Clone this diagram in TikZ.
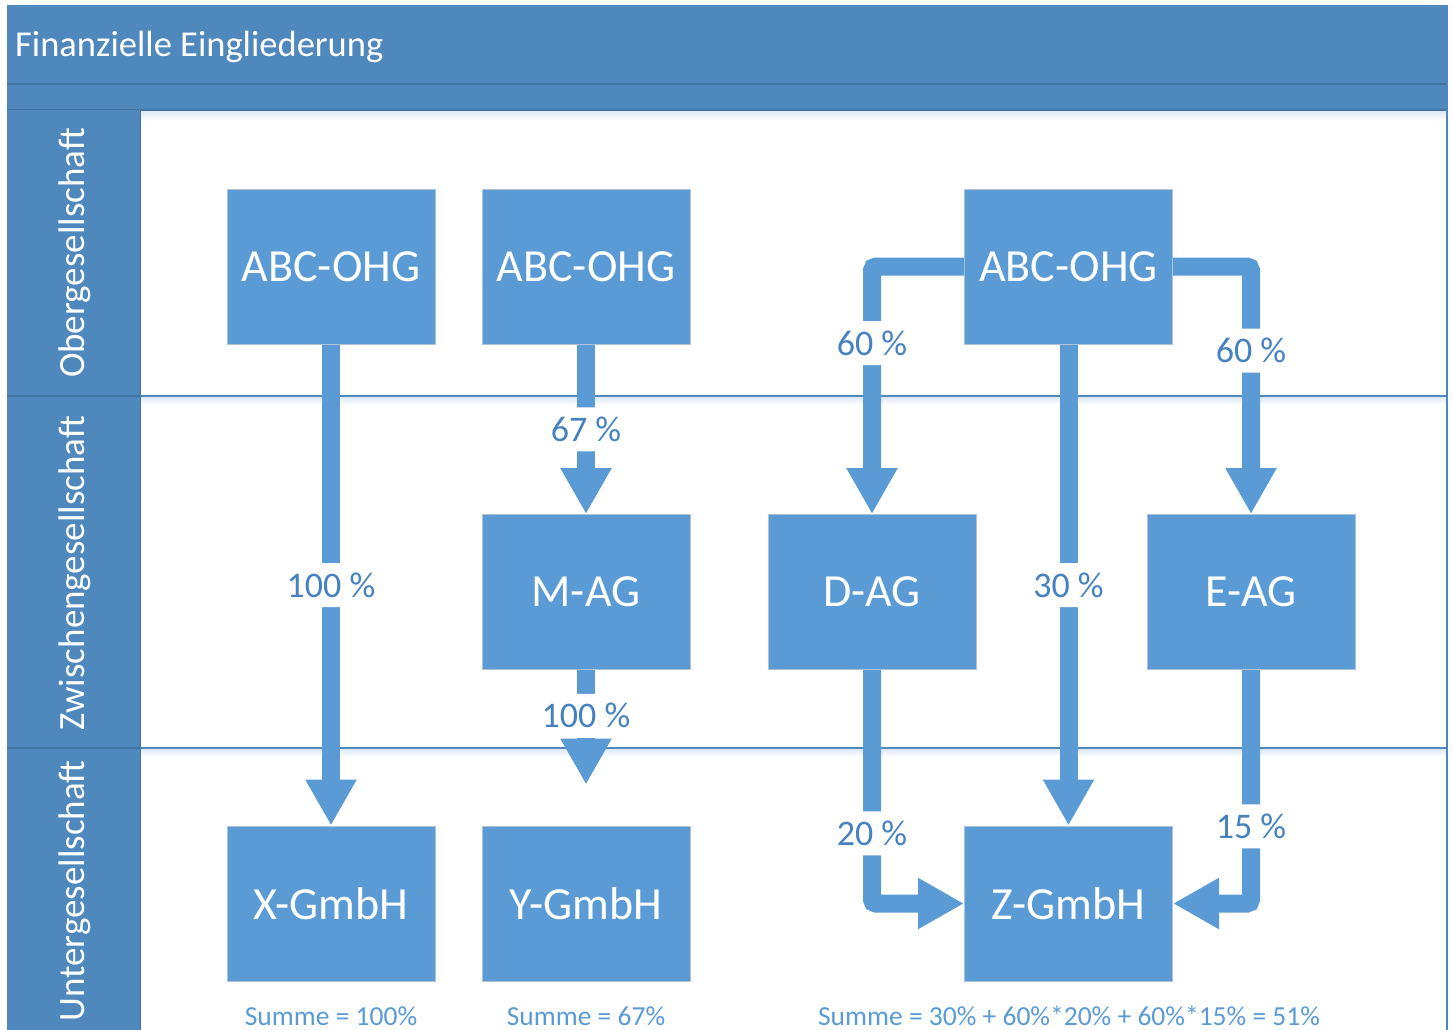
\documentclass[tikz,border=0pt]{standalone}
\usepackage{fontspec}
\setmainfont{Carlito}
\usetikzlibrary{arrows.meta,positioning}

\definecolor{headerblue}{RGB}{79,136,188}
\definecolor{ruleblue}{RGB}{66,114,160}
\definecolor{boxblue}{RGB}{91,155,213}
\definecolor{boxedge}{RGB}{175,195,215}
\definecolor{labelblue}{RGB}{70,130,192}
\definecolor{haze}{RGB}{222,233,246}

\tikzset{
  company/.style={draw=boxedge, line width=1pt, fill=boxblue, text=white,
    minimum width=208pt, minimum height=155pt, inner sep=0pt,
    font=\fontsize{46}{54}\selectfont},
  share/.style={line width=18pt, draw=boxblue, line cap=butt,
    rounded corners=4pt, -{Triangle[width=48pt,length=46pt]}},
  pct/.style={fill=white, text=labelblue, inner xsep=2pt, inner ysep=10pt,
    text height=24pt, text depth=0pt, font=\fontsize{36}{42}\selectfont},
  lanelabel/.style={rotate=90, text=white, inner sep=0pt,
    font=\fontsize{37}{44}\selectfont},
  total/.style={text=boxblue, inner sep=0pt, anchor=base,
    font=\fontsize{27.5}{33}\selectfont},
}

\begin{document}
\begin{tikzpicture}[x=1pt,y=-1pt]
  \clip (0,0) rectangle (1453,1029);
  \fill[white] (0,0) rectangle (1453,1029);

  % title band and sub band
  \fill[headerblue] (7,5) rectangle (1447,110);
  \draw[ruleblue, line width=1.2pt] (7,84) -- (1447,84);
  \draw[ruleblue, line width=1.2pt] (7,110) -- (1447,110);
  \node[anchor=base west, inner sep=0pt, text=white,
        font=\fontsize{36.5}{42}\selectfont] (title) at (15,56) {Finanzielle Eingliederung};

  % soft haze below the header and the lane rules
  \shade[top color=haze, bottom color=white] (140,111) rectangle (1446,121);
  \shade[top color=haze, bottom color=white] (140,397) rectangle (1446,405);
  \shade[top color=haze, bottom color=white] (140,749) rectangle (1446,757);

  % lane column
  \fill[headerblue] (7,110) rectangle (140,1040);
  \draw[ruleblue, line width=1.2pt] (7,396) -- (140,396);
  \draw[ruleblue, line width=1.2pt] (7,748) -- (140,748);
  \draw[ruleblue, line width=0.8pt] (140,110) -- (140,1040);

  % lane rules and right frame
  \draw[headerblue, line width=1.5pt] (140,396) -- (1447,396);
  \draw[headerblue, line width=1.5pt] (140,748) -- (1447,748);
  \draw[headerblue, line width=2pt] (1447,5) -- (1447,1040);

  \node[lanelabel] (lane1) at (75,253) {Obergesellschaft};
  \node[lanelabel] (lane2) at (75,573) {Zwischengesellschaft};
  \node[lanelabel] (lane3) at (75,891) {Untergesellschaft};

  % companies
  \node[company] (abc1) at (331,266.5)    {ABC-OHG};
  \node[company] (abc2) at (586,266.5)    {ABC-OHG};
  \node[company] (abc3) at (1068.5,266.5) {ABC-OHG};
  \node[company] (mag)  at (586,592)      {M-AG};
  \node[company] (dag)  at (872,592)      {D-AG};
  \node[company] (eag)  at (1251,592)     {E-AG};
  \node[company] (xg)   at (331,903.5)    {X-GmbH};
  \node[company] (yg)   at (586,903.5)    {Y-GmbH};
  \node[company] (zg)   at (1068.5,903.5) {Z-GmbH};

  % shareholdings
  \draw[share] (abc1.south) -- node[pct] (p1) {100 \%} (xg.north);
  \draw[share] (abc2.south) -- node[pct] (p2) {67 \%} (mag.north);
  \draw[share, shorten >=41pt] (mag.south) -- node[pct, pos=0.295] (p3) {100 \%} (yg.north);
  \draw[share] (abc3.west) -| node[pct, pos=0.655] (p4) {60 \%} (dag.north);
  \draw[share] (abc3.east) -| node[pct, pos=0.67] (p5) {60 \%} (eag.north);
  \draw[share] (abc3.south) -- node[pct] (p6) {30 \%} (zg.north);
  \draw[share] (dag.south) |- node[pct, pos=0.35] (p7) {20 \%} (zg.west);
  \draw[share] (eag.south) |- node[pct, pos=0.335] (p8) {15 \%} (zg.east);

  % resulting totals
  \node[total] (sum1) at (331,1025)    {Summe = 100\%};
  \node[total] (sum2) at (586,1025)    {Summe = 67\%};
  \node[total] (sum3) at (1069,1025)   {Summe = 30\% + 60\%*20\% + 60\%*15\% = 51\%};
\end{tikzpicture}
\end{document}
